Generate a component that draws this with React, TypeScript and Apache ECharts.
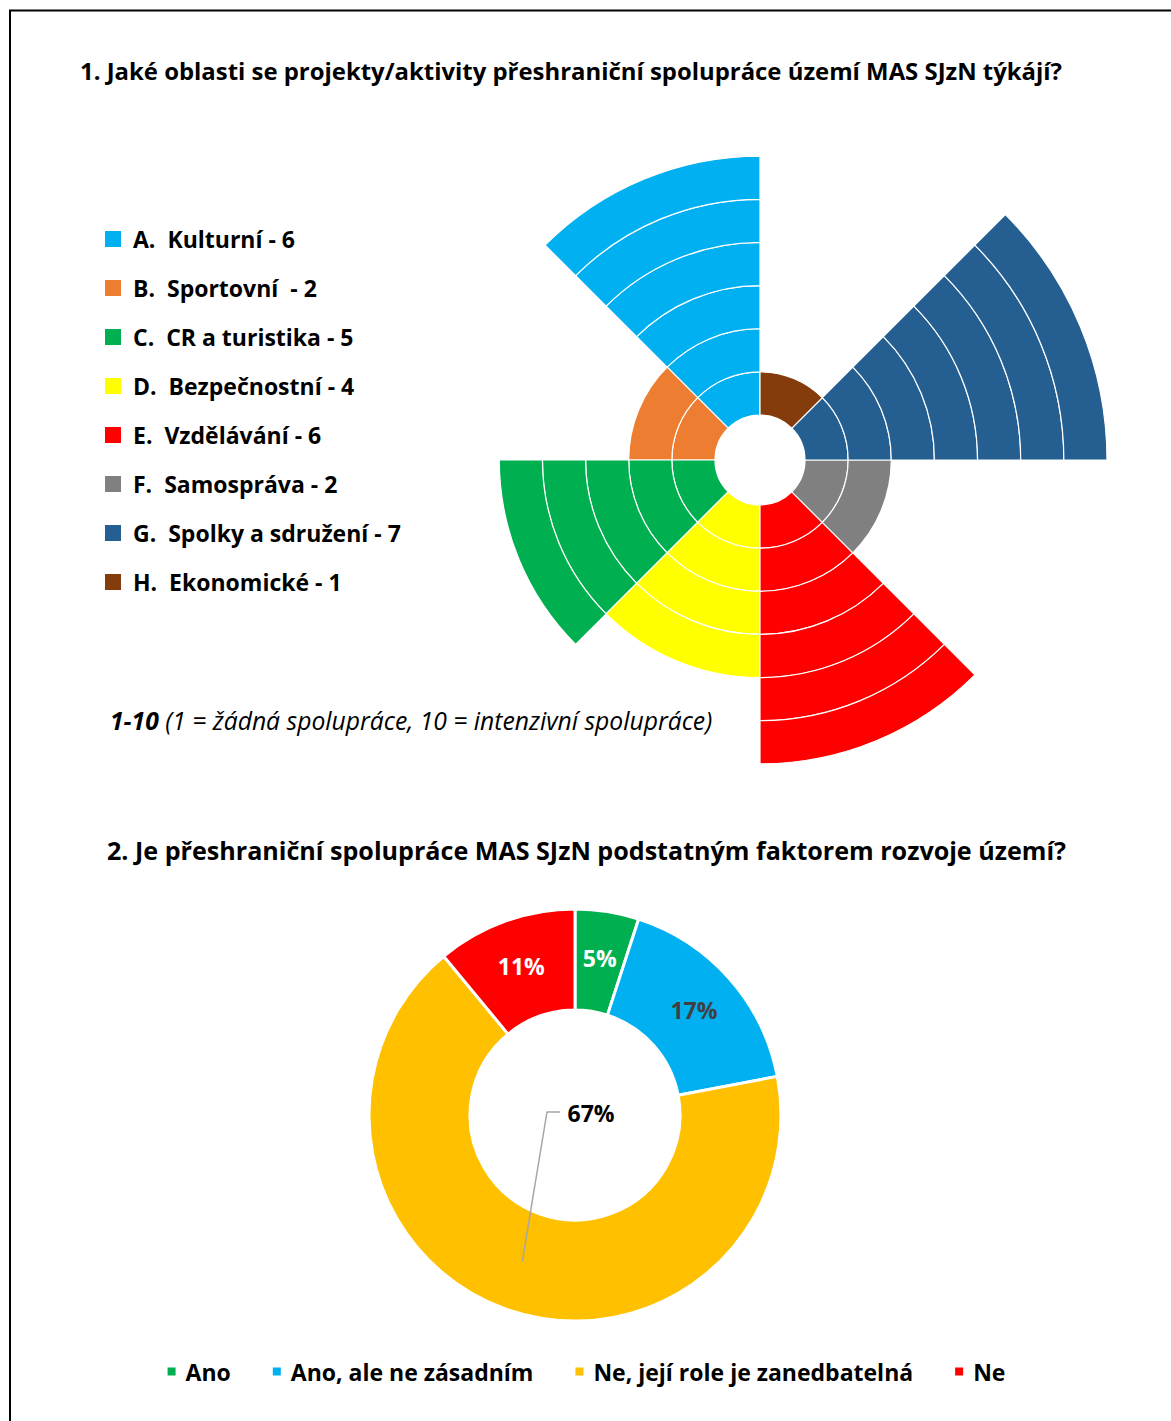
import React, { useEffect, useRef } from 'react';
import * as echarts from 'echarts';

const letters = ['A', 'B', 'C', 'D', 'E', 'F', 'G', 'H'];
const areaNames = ['Kulturní', 'Sportovní ', 'CR a turistika', 'Bezpečnostní', 'Vzdělávání', 'Samospráva', 'Spolky a sdružení', 'Ekonomické'];
const areaCounts = [6, 2, 5, 4, 6, 2, 7, 1];
const areaColors = ['#00B0F0', '#ED7D31', '#00B050', '#FFFF00', '#FF0000', '#808080', '#255E91', '#843C0C'];

const answerNames = ['Ano', 'Ano, ale ne zásadním', 'Ne, její role je zanedbatelná', 'Ne'];
const answerShares = [5, 17, 67, 11];
const answerColors = ['#00B050', '#00B0F0', '#FFC000', '#FF0000'];
const answerLabelColors = ['#ffffff', '#404040', '#000000', '#ffffff'];

const title1 = '1. Jaké oblasti se projekty/aktivity přeshraniční spolupráce území MAS SJzN týkájí?';
const title2 = '2. Je přeshraniční spolupráce MAS SJzN podstatným faktorem rozvoje území?';
const noteBold = '1-10';
const noteRest = ' (1 = žádná spolupráce, 10 = intenzivní spolupráce)';

const FONT = '"Open Sans", "Noto Sans", sans-serif';

export default function App() {
  const ref = useRef<HTMLDivElement>(null);
  useEffect(() => {
    if (!ref.current) return;
    const chart = echarts.init(ref.current, undefined, { renderer: 'svg' });
    const maxCount = Math.max(...areaCounts);
    const barSeries: any[] = [];
    for (let k = 1; k <= maxCount; k++) {
      barSeries.push({
        type: 'bar',
        name: 'ring' + k,
        coordinateSystem: 'polar',
        stack: 'areas',
        barCategoryGap: '0%',
        silent: true,
        itemStyle: { borderColor: '#ffffff', borderWidth: 1.2 },
        data: areaCounts.map((c, i) =>
          c >= k ? { value: 1, itemStyle: { color: areaColors[i] } } : '-'
        ),
      });
    }

    // pie geometry
    const pieCenter = [575, 1115];
    const pieR = [105, 206];
    const total = answerShares.reduce((a, b) => a + b, 0);
    const idx = 2;
    const before = answerShares.slice(0, idx).reduce((a, b) => a + b, 0);
    const midFrac = (before + answerShares[idx] / 2) / total;
    const ang = midFrac * 2 * Math.PI;
    const rMid = (pieR[0] + pieR[1]) / 2;
    const endX = pieCenter[0] + rMid * Math.sin(ang);
    const endY = pieCenter[1] - rMid * Math.cos(ang);

    const legendGraphics: any[] = [];
    letters.forEach((l, i) => {
      const y = 239 + i * 49;
      legendGraphics.push({
        type: 'rect',
        shape: { x: 105, y: y - 8, width: 16, height: 16 },
        style: { fill: areaColors[i] },
      });
      legendGraphics.push({
        type: 'text',
        style: {
          x: 133,
          y,
          text: `${l}.  ${areaNames[i]} - ${areaCounts[i]}`,
          fontFamily: FONT,
          fontWeight: 'bold',
          fontSize: 23,
          fill: '#000',
          align: 'left',
          verticalAlign: 'middle',
        },
      });
    });

    chart.setOption({
      animation: false,
      backgroundColor: '#ffffff',
      polar: { center: [760, 460], radius: [45, 347] },
      angleAxis: {
        type: 'category',
        data: letters,
        startAngle: 90,
        clockwise: false,
        show: false,
      },
      radiusAxis: { type: 'value', min: 0, max: maxCount, show: false },
      legend: {
        data: answerNames,
        left: 'center',
        top: 1355,
        icon: 'rect',
        itemWidth: 10,
        itemHeight: 10,
        itemGap: 40,
        selectedMode: false,
        textStyle: {
          fontFamily: FONT,
          fontWeight: 'bold',
          fontSize: 23,
          color: '#000',
          padding: [0, 0, 0, 4],
        },
      },
      series: [
        ...barSeries,
        {
          type: 'pie',
          center: pieCenter,
          radius: pieR,
          startAngle: 90,
          clockwise: true,
          avoidLabelOverlap: false,
          silent: true,
          itemStyle: { borderColor: '#ffffff', borderWidth: 3 },
          label: {
            show: true,
            position: 'inside',
            formatter: '{c}%',
            fontFamily: FONT,
            fontWeight: 'bold',
            fontSize: 23,
          },
          labelLine: { show: false },
          data: answerNames.map((n, i) => ({
            name: n,
            value: answerShares[i],
            itemStyle: { color: answerColors[i] },
            label:
              i === idx
                ? { color: answerLabelColors[i], position: 'center', offset: [16, -2] }
                : { color: answerLabelColors[i] },
          })),
        },
      ],
      graphic: [
        { type: 'line', shape: { x1: 9, y1: 10.5, x2: 1171, y2: 10.5 }, style: { stroke: '#000', lineWidth: 2 } },
        { type: 'line', shape: { x1: 10, y1: 10, x2: 10, y2: 1421 }, style: { stroke: '#000', lineWidth: 2 } },
        {
          type: 'text',
          style: {
            x: 80, y: 70, text: title1, fontFamily: FONT, fontWeight: 'bold', fontSize: 23.9,
            fill: '#000', align: 'left', verticalAlign: 'middle',
          },
        },
        {
          type: 'text',
          style: {
            x: 107, y: 850, text: title2, fontFamily: FONT, fontWeight: 'bold', fontSize: 25.1,
            fill: '#000', align: 'left', verticalAlign: 'middle',
          },
        },
        {
          type: 'text',
          style: {
            x: 110, y: 720,
            text: `{b|${noteBold}}${noteRest}`,
            fontFamily: FONT, fontStyle: 'italic', fontWeight: 'normal', fontSize: 24.7,
            fill: '#000', align: 'left', verticalAlign: 'middle',
            rich: { b: { fontFamily: FONT, fontStyle: 'italic', fontWeight: 'bold', fontSize: 24.7, fill: '#000' } },
          },
        },
        ...legendGraphics,
        {
          type: 'polyline',
          z: 100,
          shape: { points: [[560, 1112], [547, 1112], [endX, endY]] },
          style: { stroke: '#a6a6a6', lineWidth: 1.5, fill: 'none' },
        },
      ],
    });
    return () => chart.dispose();
  }, []);
  return (
    <div
      ref={ref}
      style={{ position: 'absolute', left: 0, top: 0, width: 1171, height: 1421 }}
    />
  );
}
